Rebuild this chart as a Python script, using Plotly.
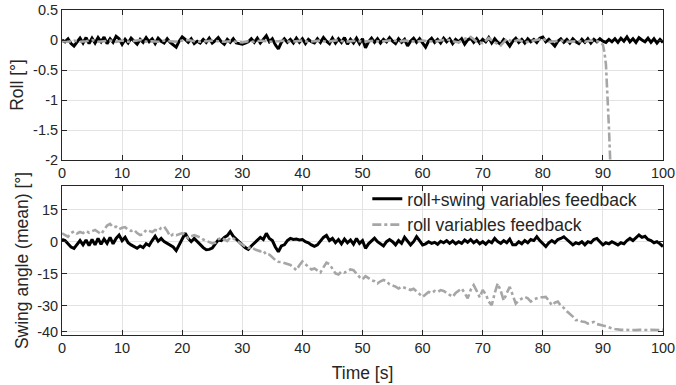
import numpy as np
import plotly.graph_objects as go

# ---------------- data ----------------
t_half = np.arange(0, 100.5, 0.5)  # 201 samples, 0.5 s

roll_swing_fb_roll = [
    0.00, -0.03, 0.02, -0.06, -0.10, -0.04, 0.03, -0.05, 0.04, -0.06,
    0.03, -0.05, 0.04, -0.03, 0.05, -0.06, 0.02, -0.04, 0.06, 0.02,
    -0.07, 0.01, -0.05, 0.03, -0.02, -0.07, 0.01, -0.04, 0.04, -0.03,
    0.02, -0.06, 0.03, -0.02, -0.05, 0.02, -0.04, -0.08, -0.12, -0.02,
    0.05, 0.01, -0.04, 0.02, -0.06, -0.02, -0.05, 0.01, -0.04, 0.03,
    -0.05, -0.01, 0.04, -0.03, -0.07, 0.01, -0.04, 0.02, -0.05, -0.06,
    -0.07, -0.05, -0.03, 0.02, -0.04, 0.03, -0.05, 0.01, 0.07, -0.03,
    0.02, -0.08, -0.15, -0.04, 0.02, -0.04, 0.01, -0.05, 0.03, -0.04,
    0.02, -0.06, 0.01, -0.03, -0.05, 0.02, -0.04, 0.04, -0.02, -0.06,
    0.03, -0.05, 0.02, -0.04, 0.04, -0.07, 0.01, -0.05, 0.03, -0.06,
    0.02, -0.13, -0.03, 0.03, -0.04, 0.02, -0.05, 0.01, -0.03, 0.04,
    -0.02, -0.06, 0.02, -0.04, 0.01, -0.10, -0.02, 0.03, -0.04, 0.02,
    -0.05, -0.12, -0.02, 0.03, -0.04, 0.01, -0.05, 0.03, -0.03, 0.02,
    -0.06, 0.01, -0.03, 0.02, -0.07, 0.00, 0.03, -0.04, 0.02, -0.05,
    0.01, -0.03, 0.04, -0.05, 0.02, -0.04, -0.07, 0.01, -0.03, -0.10,
    -0.02, 0.03, -0.04, 0.01, -0.05, 0.02, -0.03, 0.01, -0.04, 0.03,
    0.05, -0.03, 0.01, -0.05, -0.10, -0.02, 0.02, -0.04, 0.01, -0.05,
    0.02, -0.03, -0.06, 0.01, -0.04, 0.02, -0.05, 0.01, -0.03, 0.02,
    -0.02, -0.04, 0.01, -0.03, 0.02, -0.04, 0.03, -0.02, 0.05, -0.03,
    0.02, -0.04, 0.04, 0.00, -0.03, 0.03, -0.04, 0.02, -0.05, 0.01,
    -0.04,
]

t_roll_only = list(range(90)) + [89.5, 90.0, 90.25, 90.5, 90.75, 91.0, 91.25]
roll_only_fb_roll = [
    -0.02, -0.03, -0.01, -0.03, -0.02, 0.00, -0.03, -0.02, -0.01, -0.03,
    -0.01, -0.03, -0.02, 0.00, -0.03, -0.02, -0.03, -0.01, -0.02, -0.03,
    -0.01, 0.00, -0.02, -0.03, -0.02, -0.01, -0.02, -0.03, -0.02, -0.03,
    -0.04, -0.02, -0.03, -0.01, -0.02, -0.03, -0.02, -0.01, -0.03, -0.02,
    -0.01, -0.03, -0.02, -0.01, -0.03, -0.02, 0.00, -0.03, -0.02, -0.01,
    -0.03, -0.02, -0.01, -0.03, -0.02, 0.00, -0.03, -0.01, -0.02, -0.03,
    -0.01, -0.02, -0.03, -0.01, 0.01, -0.02, -0.04, 0.02, 0.05, -0.03,
    -0.05, 0.03, -0.04, -0.09, 0.02, -0.03, 0.00, -0.04, -0.02, -0.01,
    0.02, -0.03, -0.02, -0.01, -0.03, -0.02, -0.02, -0.03, -0.01, -0.02,
    -0.03, -0.08, -0.20, -0.40, -0.85, -1.45, -2.10,
]

roll_swing_fb_swing = [
    1.1, 0.5, -1.0, -2.5, -3.1, -1.0, 0.5, -1.5, 0.8, -1.8,
    1.0, -1.5, 1.5, -1.2, 1.2, -0.8, 2.0, -1.0, 1.5, 3.1,
    0.5, 2.0, -0.5, -1.5, -2.5, -3.1, -2.0, -2.8, -1.0, -1.8,
    0.5, 2.5, 0.2, 1.5, 0.0, -0.8, -1.8, -2.5, -4.2, -1.5,
    1.0, 3.9, 1.5, 0.0, 1.5, 0.0, -1.5, -2.8, -3.8, -3.6,
    -3.0, -1.0, 0.8, 0.5, 2.0, 2.8, 4.7, 2.5, 1.0, -0.5,
    -1.5, -2.8, -3.6, -2.0, -0.5, 0.8, 2.0, 1.0, 3.9, 1.5,
    0.5, -2.5, -4.7, -2.0, -1.5, 0.5, 1.5, 1.0, 1.2, 0.8,
    1.0, 0.0, -0.5, -1.5, -2.2, -1.5, 0.5, 2.0, 2.9, 0.5,
    1.5, -0.5, 1.0, -1.0, 1.2, -0.5, 0.8, -1.2, 1.5, -0.8,
    0.5, -3.1, -1.0, 0.5, 1.6, 0.0, -1.0, -2.0, 0.0, 1.0,
    0.0, -1.5, 0.5, -0.8, 2.0, 0.5, -1.5, 0.0, 2.3, 0.5,
    -1.5, -1.0, 0.0, -0.8, -0.3, -1.2, 0.2, -0.5, 0.5, -0.8,
    0.3, -1.0, 0.0, -0.8, 0.8, -0.3, 1.0, -0.5, 0.5, -1.0,
    0.0, -1.2, 0.3, -0.5, 1.5, 0.0, -0.8, 0.5, -0.5, 1.2,
    -1.5, -1.5, 0.0, -1.0, 0.5, -0.5, 1.0, 0.5, 2.3, 0.5,
    -1.0, -2.3, -0.5, 0.5, -0.5, 1.0, 1.5, 2.3, 1.0, -0.5,
    -1.5, -0.5, -1.0, 0.0, -1.5, 0.0, -0.5, 1.0, 1.5, 0.0,
    -1.5, -0.5, -1.0, 0.0, -0.8, -1.5, -0.5, -1.0, 0.5, 1.5,
    0.5, 2.0, 3.1, 2.0, 2.5, 1.0, 0.5, -0.5, 0.0, -1.0,
    -2.3,
]

roll_only_fb_swing = [
    3.9, 3.0, 2.3, 4.0, 4.8, 3.8, 4.5, 4.0, 5.0, 4.2,
    5.0, 5.5, 4.5, 3.5, 5.5, 7.5, 8.3, 6.8, 7.0, 5.8,
    6.5, 6.8, 5.5, 5.0, 5.5, 4.0, 3.1, 3.5, 5.5, 5.0,
    4.5, 5.5, 5.0, 6.5, 7.0, 5.0, 2.5, 3.5, 3.0, 3.5,
    4.0, 3.0, 1.6, 2.5, 3.0, 2.5, 2.0, 1.0, 0.5, 0.0,
    -0.8, -0.5, 1.0, 1.9, 1.0, 0.3, 1.9, 1.5, 0.5, -0.5,
    -1.2, -2.3, -3.0, -2.5, -3.5, -4.0, -4.5, -4.2, -6.2, -6.0,
    -7.5, -8.6, -9.4, -9.5, -10.0, -10.3, -10.9, -12.0, -13.3, -11.0,
    -9.2, -10.5, -12.0, -13.0, -12.5, -13.5, -14.4, -12.0, -9.8, -10.5,
    -12.5, -14.8, -15.3, -14.0, -14.5, -13.8, -13.0, -13.3, -15.0, -16.5,
    -17.6, -16.1, -17.0, -18.0, -18.5, -19.5, -18.5, -17.9, -18.5, -20.0,
    -20.5, -21.0, -21.9, -21.0, -21.5, -22.0, -22.6, -22.0, -23.5, -24.5,
    -25.8, -24.5, -23.5, -24.0, -23.0, -23.5, -22.6, -23.0, -24.0, -25.0,
    -25.8, -24.0, -23.0, -21.9, -24.0, -26.5, -22.5, -20.3, -23.0, -26.0,
    -22.6, -24.5, -28.0, -29.7, -24.0, -19.5, -23.0, -27.5, -24.0, -21.1,
    -25.0, -28.9, -27.5, -26.5, -25.8, -26.5, -28.0, -27.0, -26.5, -26.0,
    -26.0, -25.8, -27.5, -29.7, -28.5, -28.0, -30.0, -31.0, -32.5, -33.6,
    -35.0, -36.7, -36.5, -37.3, -37.5, -38.3, -38.0, -37.5, -38.5, -39.0,
    -39.2, -39.5, -40.1, -40.5, -40.8, -41.1, -41.2, -41.2, -41.3, -41.2,
    -41.3, -41.3, -41.2, -41.3, -41.3, -41.3, -41.2, -41.3, -41.3, -41.3,
    -41.2,
]

x_ticks = [0, 10, 20, 30, 40, 50, 60, 70, 80, 90, 100]
roll_ticks = [-2, -1.5, -1, -0.5, 0, 0.5]
roll_ticktext = ["-2", "-1.5", "-1", "-0.5", "0", "0.5"]
swing_ticks = [-42, -30, -15, 0, 15]
swing_ticktext = ["-40", "-30", "-15", "0", "15"]

series_names = ["roll+swing variables feedback", "roll variables feedback"]

# ---------------- styles ----------------
BLACK = "#000000"
GREY = "#a6a6a6"
FONT = "Liberation Sans, Arial, sans-serif"
AXCOL = "#262626"
GRID = "#e3e3e3"

fig = go.Figure()
fig.add_trace(go.Scatter(x=t_half, y=roll_swing_fb_roll, mode="lines",
                         line=dict(color=BLACK, width=3), xaxis="x", yaxis="y",
                         showlegend=False))
fig.add_trace(go.Scatter(x=t_roll_only, y=roll_only_fb_roll, mode="lines",
                         line=dict(color=GREY, width=2.6, dash="dashdot"),
                         xaxis="x", yaxis="y", showlegend=False))
fig.add_trace(go.Scatter(x=t_half, y=roll_swing_fb_swing, mode="lines",
                         name=series_names[0],
                         line=dict(color=BLACK, width=3), xaxis="x2", yaxis="y2"))
fig.add_trace(go.Scatter(x=t_half, y=roll_only_fb_swing, mode="lines",
                         name=series_names[1],
                         line=dict(color=GREY, width=2.6, dash="dashdot"),
                         xaxis="x2", yaxis="y2"))

axis_common = dict(
    showline=True, linecolor=AXCOL, linewidth=1, mirror="ticks",
    ticks="inside", ticklen=5, tickcolor=AXCOL, tickwidth=1,
    showgrid=True, gridcolor=GRID, gridwidth=1, zeroline=False,
    automargin=False,
    tickfont=dict(family=FONT, size=14.5, color=AXCOL),
)

H_TOP = 10
H_BOT = 50
PH = 385 - H_TOP - H_BOT

fig.update_layout(
    width=676, height=385,
    margin=dict(l=62, r=13, t=H_TOP, b=H_BOT),
    paper_bgcolor="white", plot_bgcolor="white",
    font=dict(family=FONT, color=AXCOL),
    xaxis=dict(axis_common, domain=[0, 1], range=[0, 100], tickvals=x_ticks,
               anchor="y"),
    yaxis=dict(axis_common, domain=[(335 - 160) / PH, 1], range=[-2, 0.5],
               tickvals=roll_ticks, ticktext=roll_ticktext, anchor="x",
               title=dict(text="Roll [°]", font=dict(family=FONT, size=17.5, color=AXCOL),
                          standoff=4)),
    xaxis2=dict(axis_common, domain=[0, 1], range=[0, 100], tickvals=x_ticks,
                anchor="y2",
                title=dict(text="Time [s]", font=dict(family=FONT, size=17.5, color=AXCOL),
                           standoff=11)),
    yaxis2=dict(axis_common, domain=[0, (335 - 186) / PH], range=[-43.6, 26],
                tickvals=swing_ticks, ticktext=swing_ticktext, anchor="x2",
                title=dict(text="Swing angle (mean) [°]",
                           font=dict(family=FONT, size=17.5, color=AXCOL),
                           standoff=4)),
    legend=dict(x=0.508, y=0.474, xanchor="left", yanchor="top",
                bgcolor="rgba(0,0,0,0)", borderwidth=0,
                font=dict(family=FONT, size=17.5, color=AXCOL),
                tracegroupgap=0, itemwidth=30),
)

fig.write_html("out.html")
